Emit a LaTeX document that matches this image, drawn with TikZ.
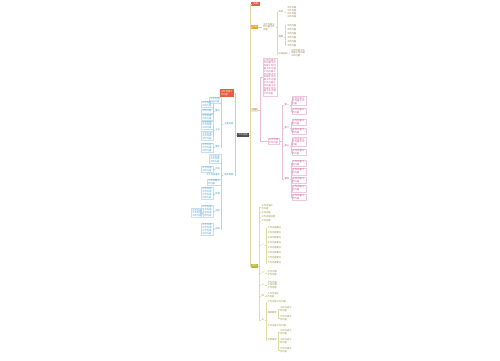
\documentclass[tikz,border=0pt]{standalone}
\usepackage{fontspec}
\newfontfamily\cjk{Noto Sans CJK SC}
\XeTeXlinebreaklocale "zh"
\XeTeXlinebreakskip=0pt plus 0.5pt
\usetikzlibrary{positioning, calc}

\definecolor{rootgray}{HTML}{4E4E4E}
\definecolor{redtop}{HTML}{E2603F}
\definecolor{orangetop}{HTML}{F0A52C}
\definecolor{beigetop}{HTML}{F1E6C6}
\definecolor{greentop}{HTML}{B4B630}
\definecolor{bluetx}{HTML}{3A98D4}
\definecolor{pinktx}{HTML}{C64C8C}
\definecolor{olivetx}{HTML}{8C7C52}
\definecolor{greentx}{HTML}{8E8F3A}
\definecolor{trunkln}{HTML}{E4D4A6}

\newcommand{\rep}[1]{\foreach \k in {1,...,#1}{工作内容}}

\begin{document}
\begin{tikzpicture}[x=0.02cm, y=-0.02cm,
    mm/.style={font=\cjk\fontsize{1.3}{1.6}\selectfont, inner sep=0.4pt, align=left},
    rootnode/.style={mm, fill=rootgray, text=white, inner sep=0.7pt},
    topic/.style={mm, fill=#1, text=white, inner sep=0.6pt},
    tag/.style={mm, text=#1},
    leaf/.style={mm, draw=#1!30, text=#1, line width=0.15pt, text width=0.22cm},
    plain/.style={mm, text=#1, text width=0.24cm},
    ln/.style={draw=#1, line width=0.3pt}
]
\useasboundingbox (0,0) rectangle (500,360);

% root
\node[rootnode] (root) at (243,135) {工作总结};

% left side
\node[topic=redtop, text width=0.24cm, anchor=east] (title) at (234.5,93) {\rep{2}};
\node[tag=bluetx, anchor=east] (lA) at (234.5,124) {主要内容};
\node[tag=bluetx, anchor=east] (lB) at (234.5,175) {具体措施};
\foreach \c in {title,lA,lB} \draw[ln=bluetx!40] (root.west) -- ++(-2,0) |- (\c.east);

\node[leaf=bluetx, text width=0.2cm, anchor=east] (a1) at (221,100) {\rep{2}};
\node[tag=bluetx, anchor=east] (a2) at (221,111) {要点};
\node[tag=bluetx, anchor=east] (a3) at (221,130) {方法};
\node[tag=bluetx, anchor=east] (a4) at (221,147) {要求};
\foreach \c in {a1,a2,a3,a4} \draw[ln=bluetx!40] (lA.west) -- ++(-1.5,0) |- (\c.east);

\node[leaf=bluetx, text width=0.2cm, anchor=east] (a21) at (213,104) {\rep{2}};
\node[leaf=bluetx, text width=0.2cm, anchor=east] (a22) at (213,111) {工作内容};
\node[leaf=bluetx, text width=0.2cm, anchor=east] (a23) at (213,117.5) {\rep{2}};
\node[leaf=bluetx, text width=0.2cm, anchor=east] (a31) at (213,125) {\rep{3}};
\node[leaf=bluetx, text width=0.2cm, anchor=east] (a32) at (213,136) {\rep{3}};
\node[leaf=bluetx, text width=0.2cm, anchor=east] (a41) at (213,147.5) {\rep{3}};
\foreach \p/\c in {a2/a21,a2/a22,a2/a23,a3/a31,a3/a32,a4/a41}
    \draw[ln=bluetx!40] (\p.west) -- ++(-0.8,0) |- (\c.east);

\node[leaf=bluetx, text width=0.2cm, anchor=east] (b1) at (221,159) {\rep{3}};
\node[tag=bluetx, anchor=east] (b2) at (221,169) {目标};
\node[tag=bluetx, anchor=east] (b3) at (221,175) {工作内容落实};
\node[leaf=bluetx, text width=0.24cm, anchor=east] (b4) at (221,182) {\rep{2}};
\node[tag=bluetx, anchor=east] (b5) at (221,194) {步骤};
\node[tag=bluetx, anchor=east] (b6) at (221,211) {安排};
\node[tag=bluetx, anchor=east] (b7) at (221,229) {总结};
\foreach \c in {b1,b2,b3,b4,b5,b6,b7} \draw[ln=bluetx!40] (lB.west) -- ++(-1.5,0) |- (\c.east);

\node[leaf=bluetx, text width=0.2cm, anchor=east] (b21) at (213,169) {\rep{2}};
\node[leaf=bluetx, text width=0.2cm, anchor=east] (b51) at (213,193) {\rep{4}};
\node[leaf=bluetx, text width=0.2cm, anchor=east] (b61) at (213,211) {\rep{4}};
\node[leaf=bluetx, text width=0.2cm, anchor=east] (b62) at (203,213) {\rep{3}};
\node[leaf=bluetx, text width=0.2cm, anchor=east] (b71) at (213,229) {\rep{4}};
\foreach \p/\c in {b2/b21,b5/b51,b6/b61,b61/b62,b7/b71}
    \draw[ln=bluetx!40] (\p.west) -- ++(-0.8,0) |- (\c.east);

% right side
\node[topic=redtop, minimum width=0.18cm, anchor=west] (r1) at (251,4) {标题};
\node[topic=orangetop, anchor=west] (r2) at (251,27) {计划};
\node[mm, fill=beigetop, text=olivetx, inner sep=0.6pt, anchor=west] (r3) at (251,110) {内容};
\node[topic=greentop, anchor=west] (r4) at (251,266) {其他};
\foreach \c in {r1,r2,r3,r4} \draw[ln=trunkln] (root.east) -- ++(1.6,0) |- (\c.west);

% orange branch
\node[plain=olivetx, anchor=west] (o1) at (262,27) {\rep{3}};
\draw[ln=trunkln] (r2.east) -- (o1.west);
\node[tag=olivetx, anchor=west] (o2) at (277.5,12) {目标};
\node[tag=olivetx, anchor=west] (o3) at (277.5,37) {措施};
\node[tag=olivetx, anchor=west] (o4) at (277.5,54) {时间安排};
\foreach \c in {o2,o3,o4} \draw[ln=trunkln] (o1.east) -- ++(1,0) |- (\c.west);
\node[plain=olivetx, text width=0.2cm, anchor=west] (o21) at (286,12) {\rep{4}};
\draw[ln=trunkln] (o2.east) -- ++(1,0) |- (o21.west);
\foreach \i/\y in {1/25.5,2/29.5,3/33.5,4/37.5,5/41.5,6/45.5} {
    \node[tag=olivetx, anchor=west] (o3\i) at (286,\y) {工作内容};
    \draw[ln=trunkln] (o3.east) -- ++(1,0) |- (o3\i.west);
}
\node[plain=olivetx, text width=0.28cm, anchor=west] (o41) at (290,53) {\rep{4}};
\draw[ln=trunkln] (o4.east) -- (o41.west);

% pink branch
\node[leaf=pinktx, text width=0.26cm, anchor=west] (p1) at (263,77) {\rep{16}};
\node[leaf=pinktx, text width=0.2cm, anchor=west] (p2) at (268,141) {\rep{2}};
\foreach \c in {p1,p2} \draw[ln=pinktx!35] (r3.east) -- ++(2.3,0) |- (\c.west);
\node[tag=pinktx, anchor=west] (q1) at (283.5,105) {第一};
\node[tag=pinktx, anchor=west] (q2) at (283.5,128) {第二};
\node[tag=pinktx, anchor=west] (q3) at (283.5,146) {第三};
\node[tag=pinktx, anchor=west] (q4) at (283.5,179) {第四};
\foreach \c in {q1,q2,q3,q4} \draw[ln=pinktx!35] (p2.east) -- ++(2.5,0) |- (\c.west);
\foreach \p/\c/\y/\n in {q1/q11/101/3, q1/q12/111/2, q2/q21/122/2, q2/q22/131/2,
    q3/q31/142/3, q3/q32/152/2, q4/q41/163/2, q4/q42/171.5/2, q4/q43/180/2,
    q4/q44/188.5/2, q4/q45/197/2} {
    \node[leaf=pinktx, text width=0.26cm, anchor=west] (\c) at (291.5,\y) {\rep{\n}};
    \draw[ln=pinktx!35] (\p.east) -- ++(0.8,0) |- (\c.west);
}

% green branch
\node[plain=greentx, anchor=west] (g1) at (260.5,207) {\rep{2}};
\node[tag=greentx, anchor=west] (g2) at (260.5,212.5) {工作内容};
\node[tag=greentx, anchor=west] (g3) at (260.5,216.8) {工作内容说明};
\node[tag=greentx, anchor=west] (g4) at (260.5,221.1) {工作内容};
\node[tag=greentx, anchor=west] (g5) at (260.5,245) {一};
\node[tag=greentx, anchor=west] (g6) at (260.5,273) {二};
\node[tag=greentx, anchor=west] (g7) at (260.5,285) {三};
\node[tag=greentx, anchor=west] (g8) at (260.5,296) {四};
\node[tag=greentx, anchor=west] (g9) at (260.5,320) {五};
\foreach \c in {g1,g2,g3,g4,g5,g6,g7,g8,g9} \draw[ln=greentop!45] (r4.east) -- ++(1.3,0) |- (\c.west);

\foreach \i/\y in {1/228,2/233,3/238,4/243,5/248,6/253,7/258,8/263} {
    \node[tag=greentx, anchor=west] (g5\i) at (266.5,\y) {工作内容要点};
    \draw[ln=greentop!45] (g5.east) -- ++(1,0) |- (g5\i.west);
}
\node[plain=greentx, text width=0.2cm, anchor=west] (g61) at (266.5,273) {\rep{2}};
\node[plain=greentx, text width=0.2cm, anchor=west] (g71) at (266.5,285) {\rep{3}};
\node[plain=greentx, anchor=west] (g81) at (266.5,295.5) {\rep{2}};
\foreach \p/\c in {g6/g61,g7/g71,g8/g81} \draw[ln=greentop!45] (\p.east) -- ++(1,0) |- (\c.west);

\node[tag=greentx, anchor=west] (h1) at (266.5,302) {\rep{2}};
\node[tag=greentx, anchor=west] (h2) at (266.5,313) {具体要求};
\node[tag=greentx, anchor=west] (h3) at (266.5,326) {\rep{2}};
\node[tag=greentx, anchor=west] (h4) at (266.5,340) {注意事项};
\foreach \c in {h1,h2,h3,h4} \draw[ln=greentop!45] (g9.east) -- ++(1,0) |- (\c.west);
\foreach \p/\c/\y in {h2/h21/309, h2/h22/318, h4/h41/332, h4/h42/341, h4/h43/350} {
    \node[plain=greentx, anchor=west] (\c) at (279,\y) {\rep{2}};
    \draw[ln=greentop!45] (\p.east) -- ++(1,0) |- (\c.west);
}

\end{tikzpicture}
\end{document}
